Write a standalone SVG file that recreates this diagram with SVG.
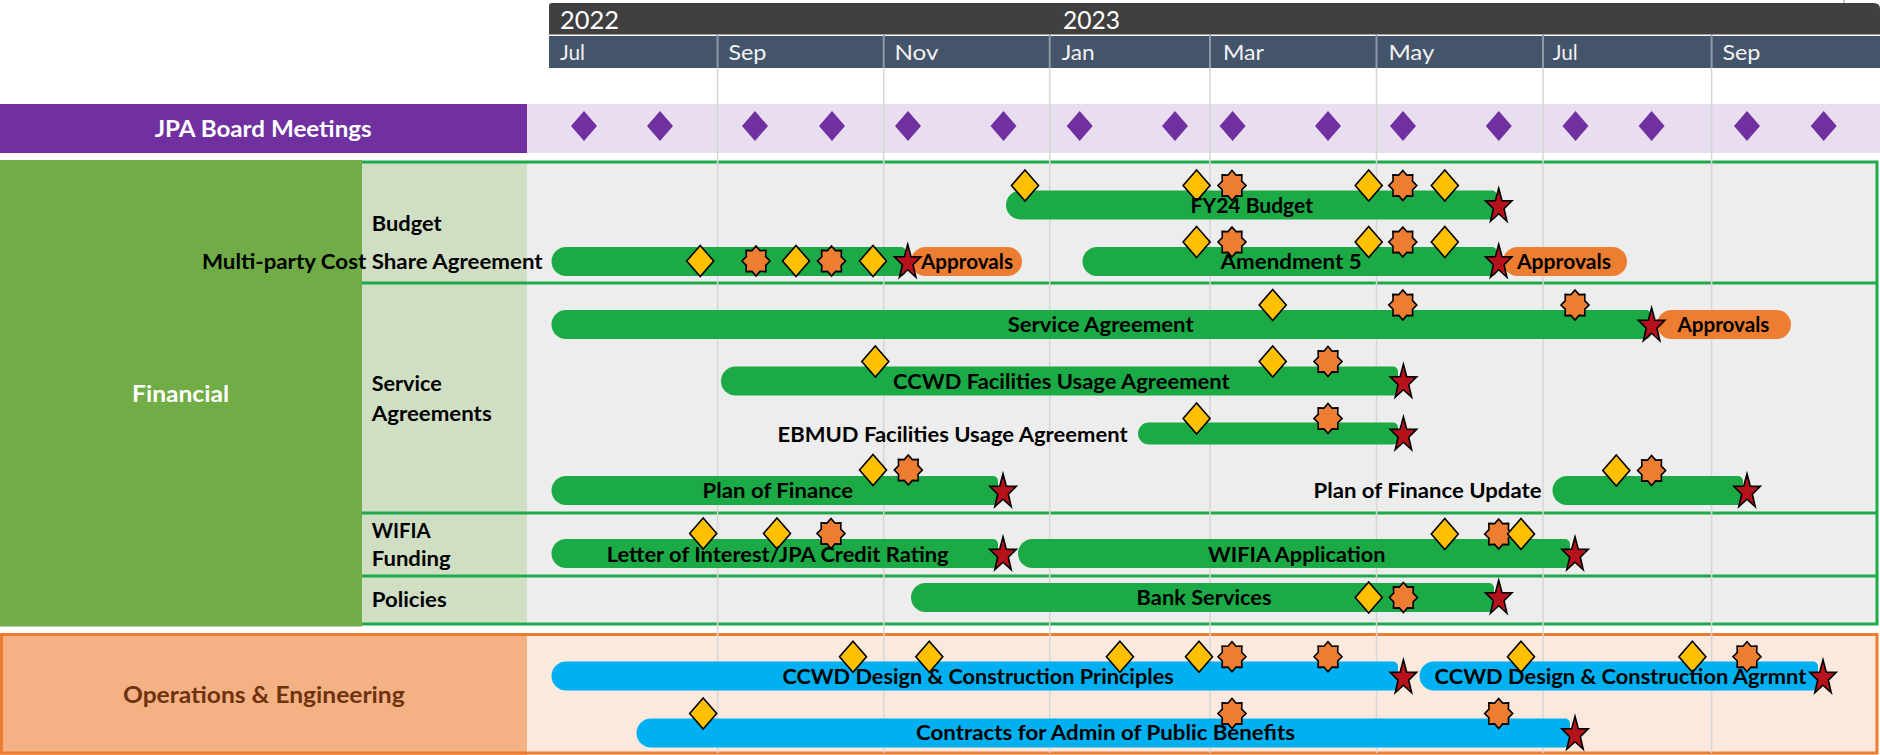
<svg xmlns="http://www.w3.org/2000/svg" width="1880" height="755" viewBox="0 0 1880 755">
<style>
text{font-family:Lato,'Liberation Sans',sans-serif}
.lb{font-weight:700;font-size:20px;fill:#000}
.wh{font-weight:700;font-size:22px;fill:#fff}
.br{font-weight:700;font-size:22px;fill:#6E3210}
.yr{font-size:25px;fill:#fff}
.mo{font-size:21px;fill:#F2F2F2}
.grid{stroke:#D6D6D6;stroke-width:1.5}
.sep{stroke:#8E99A8;stroke-width:2}
.gbar{fill:#1BAA45}
.bbar{fill:#00B0F0}
.pill{fill:#ED7D31}
.fr{stroke:#1EA94A;stroke-width:3;fill:none}
.ofr{stroke:#ED7D31;stroke-width:3;fill:none}
</style>
<defs>
<path id="dia" d="M0,-15.5 L13.5,0 L0,15.5 L-13.5,0 Z" fill="#FFC000" stroke="#000" stroke-width="1.6"/>
<polygon id="oct" points="0,-15 4.02,-10.39 9.9,-10.61 9.7,-4.31 14,0 9.7,4.31 9.9,10.61 4.02,10.39 0,15 -4.02,10.39 -9.9,10.61 -9.7,4.31 -14,0 -9.7,-4.31 -9.9,-10.61 -4.02,-10.39" fill="#ED7D31" stroke="#000" stroke-width="1.6"/>
<polygon id="star" points="0,-16.7 3.29,-4.39 13.32,-4.13 5.33,3.75 8.23,16.23 0,8.78 -8.23,16.23 -5.33,3.75 -13.32,-4.13 -3.29,-4.39" fill="#B5121B" stroke="#000" stroke-width="1.6"/>
<path id="pdia" d="M0,-15 L13,0 L0,15 L-13,0 Z" fill="#7030A0"/>
</defs>
<rect width="1880" height="755" fill="#fff"/>

<g id="timeline-header">
<line x1="1844" y1="0" x2="1844" y2="4" stroke="#ADB9CA" stroke-width="1.5"/>
<path d="M549,34.5 V6 Q549,3 552,3 H1874 Q1880,3 1880,9 V34.5 Z" fill="#404040"/>
<rect x="549" y="36" width="1331" height="32" fill="#44546A"/>
<g class="sep">
<line x1="717.6" y1="35" x2="717.6" y2="68"/>
<line x1="883.7" y1="35" x2="883.7" y2="68"/>
<line x1="1049.7" y1="35" x2="1049.7" y2="68"/>
<line x1="1210" y1="35" x2="1210" y2="68"/>
<line x1="1376.5" y1="35" x2="1376.5" y2="68"/>
<line x1="1543" y1="35" x2="1543" y2="68"/>
<line x1="1711.6" y1="35" x2="1711.6" y2="68"/>
</g>
<text class="yr" x="560" y="28.5" textLength="59" lengthAdjust="spacingAndGlyphs">2022</text>
<text class="yr" x="1063" y="28.5" textLength="57" lengthAdjust="spacingAndGlyphs">2023</text>
<text class="mo" x="560" y="59.5" textLength="25" lengthAdjust="spacingAndGlyphs">Jul</text>
<text class="mo" x="728.4" y="59.5" textLength="38" lengthAdjust="spacingAndGlyphs">Sep</text>
<text class="mo" x="894.5" y="59.5" textLength="44" lengthAdjust="spacingAndGlyphs">Nov</text>
<text class="mo" x="1061.7" y="59.5" textLength="33" lengthAdjust="spacingAndGlyphs">Jan</text>
<text class="mo" x="1223" y="59.5" textLength="41" lengthAdjust="spacingAndGlyphs">Mar</text>
<text class="mo" x="1388.4" y="59.5" textLength="46" lengthAdjust="spacingAndGlyphs">May</text>
<text class="mo" x="1552.7" y="59.5" textLength="25" lengthAdjust="spacingAndGlyphs">Jul</text>
<text class="mo" x="1722.4" y="59.5" textLength="38" lengthAdjust="spacingAndGlyphs">Sep</text>
</g>

<g id="jpa-board-meetings">
<rect x="0" y="104" width="527" height="49" fill="#7030A0"/>
<rect x="527" y="104" width="1353" height="49" fill="#E8DEEF"/>
<text class="wh" x="154.7" y="136.7" textLength="217" lengthAdjust="spacingAndGlyphs">JPA Board Meetings</text>
</g>

<g id="financial">
<rect x="0" y="160" width="362" height="466.5" fill="#70AD47"/>
<rect x="362" y="162" width="165" height="462" fill="#D0DEC4"/>
<rect x="527" y="162" width="1350" height="462" fill="#EDEDED"/>
<path class="fr" d="M362,162 H1877 V624 H362"/>
<line class="fr" x1="362" y1="283" x2="1877" y2="283"/>
<line class="fr" x1="362" y1="513" x2="1877" y2="513"/>
<line class="fr" x1="362" y1="576" x2="1877" y2="576"/>
<text class="wh" x="132" y="402" textLength="97" lengthAdjust="spacingAndGlyphs">Financial</text>
<text class="lb" x="371.7" y="231" textLength="70" lengthAdjust="spacingAndGlyphs">Budget</text>
<text class="lb" x="371.7" y="390.7" textLength="70" lengthAdjust="spacingAndGlyphs">Service</text>
<text class="lb" x="371.7" y="420.5" textLength="120" lengthAdjust="spacingAndGlyphs">Agreements</text>
<text class="lb" x="371.7" y="537.7" textLength="59" lengthAdjust="spacingAndGlyphs">WIFIA</text>
<text class="lb" x="371.7" y="566" textLength="79" lengthAdjust="spacingAndGlyphs">Funding</text>
<text class="lb" x="371.7" y="607" textLength="75" lengthAdjust="spacingAndGlyphs">Policies</text>
</g>

<g id="operations-engineering">
<rect x="0" y="634" width="527" height="121" fill="#F4B183"/>
<rect x="527" y="634" width="1350" height="121" fill="#FBE9DE"/>
<rect class="ofr" x="1.5" y="634.5" width="1875.5" height="118.5"/>
<text class="br" x="123" y="703" textLength="281.7" lengthAdjust="spacingAndGlyphs">Operations &amp; Engineering</text>
</g>

<g id="gridlines" class="grid">
<line x1="717.6" y1="68" x2="717.6" y2="753"/>
<line x1="883.7" y1="68" x2="883.7" y2="753"/>
<line x1="1049.7" y1="68" x2="1049.7" y2="753"/>
<line x1="1210" y1="68" x2="1210" y2="753"/>
<line x1="1376.5" y1="68" x2="1376.5" y2="753"/>
<line x1="1543" y1="68" x2="1543" y2="753"/>
<line x1="1711.6" y1="68" x2="1711.6" y2="753"/>
</g>

<g id="board-meeting-dates">
<use href="#pdia" x="584" y="126"/>
<use href="#pdia" x="660" y="126"/>
<use href="#pdia" x="755" y="126"/>
<use href="#pdia" x="832" y="126"/>
<use href="#pdia" x="908" y="126"/>
<use href="#pdia" x="1003.5" y="126"/>
<use href="#pdia" x="1079.7" y="126"/>
<use href="#pdia" x="1175" y="126"/>
<use href="#pdia" x="1232.6" y="126"/>
<use href="#pdia" x="1328" y="126"/>
<use href="#pdia" x="1403" y="126"/>
<use href="#pdia" x="1498.8" y="126"/>
<use href="#pdia" x="1575.5" y="126"/>
<use href="#pdia" x="1651.6" y="126"/>
<use href="#pdia" x="1747" y="126"/>
<use href="#pdia" x="1823.7" y="126"/>
</g>

<g id="connectors"/>

<g id="fy24-budget">
<path class="gbar" d="M1020.5,190.5 H1492 A5,5 0 0 1 1497,195.5 V214.5 A5,5 0 0 1 1492,219.5 H1020.5 A14.5,14.5 0 0 1 1020.5,190.5 Z"/>
<use href="#dia" x="1025" y="185.5"/>
<use href="#dia" x="1196.6" y="185.5"/>
<use href="#oct" x="1232" y="185.5"/>
<use href="#dia" x="1368.7" y="185.5"/>
<use href="#oct" x="1402.8" y="185.5"/>
<use href="#dia" x="1444.8" y="185.5"/>
<use href="#star" x="1498.7" y="205"/>
<text class="lb" x="1190.6" y="212.7" textLength="122.4" lengthAdjust="spacingAndGlyphs">FY24 Budget</text>
</g>

<g id="multi-party-cost-share">
<path class="gbar" d="M566,247 H901 A5,5 0 0 1 906,252 V271 A5,5 0 0 1 901,276 H566 A14.5,14.5 0 0 1 566,247 Z"/>
<rect class="pill" x="911" y="247" width="111" height="29" rx="14.5"/>
<use href="#dia" x="700.2" y="261"/>
<use href="#oct" x="756" y="261"/>
<use href="#dia" x="796" y="261"/>
<use href="#oct" x="831.5" y="261"/>
<use href="#dia" x="873" y="261"/>
<use href="#star" x="907.7" y="261"/>
<text class="lb" x="202" y="269" textLength="340.6" lengthAdjust="spacingAndGlyphs">Multi-party Cost Share Agreement</text>
<text class="lb" x="921" y="269" textLength="92" lengthAdjust="spacingAndGlyphs">Approvals</text>
</g>

<g id="amendment-5">
<path class="gbar" d="M1097,247 H1492 A5,5 0 0 1 1497,252 V271 A5,5 0 0 1 1492,276 H1097 A14.5,14.5 0 0 1 1097,247 Z"/>
<rect class="pill" x="1503" y="247" width="124" height="29" rx="14.5"/>
<use href="#dia" x="1196.6" y="242"/>
<use href="#oct" x="1232" y="242"/>
<use href="#dia" x="1368.7" y="242"/>
<use href="#oct" x="1402.8" y="242"/>
<use href="#dia" x="1444.8" y="242"/>
<use href="#star" x="1498.7" y="261"/>
<text class="lb" x="1220.6" y="269" textLength="141" lengthAdjust="spacingAndGlyphs">Amendment 5</text>
<text class="lb" x="1517" y="269" textLength="94" lengthAdjust="spacingAndGlyphs">Approvals</text>
</g>

<g id="service-agreement">
<path class="gbar" d="M566,310 H1646 A5,5 0 0 1 1651,315 V334 A5,5 0 0 1 1646,339 H566 A14.5,14.5 0 0 1 566,310 Z"/>
<rect class="pill" x="1657" y="310" width="134" height="29" rx="14.5"/>
<use href="#dia" x="1272.7" y="305"/>
<use href="#oct" x="1402.8" y="305"/>
<use href="#oct" x="1575" y="305"/>
<use href="#star" x="1651.6" y="324.5"/>
<text class="lb" x="1007.7" y="332" textLength="186" lengthAdjust="spacingAndGlyphs">Service Agreement</text>
<text class="lb" x="1677.4" y="332" textLength="92" lengthAdjust="spacingAndGlyphs">Approvals</text>
</g>

<g id="ccwd-facilities-usage">
<path class="gbar" d="M735.5,366.5 H1393 A5,5 0 0 1 1398,371.5 V390.5 A5,5 0 0 1 1393,395.5 H735.5 A14.5,14.5 0 0 1 735.5,366.5 Z"/>
<use href="#dia" x="875.3" y="361.5"/>
<use href="#dia" x="1272.7" y="361.5"/>
<use href="#oct" x="1328" y="361.5"/>
<use href="#star" x="1403.4" y="381"/>
<text class="lb" x="893" y="388.5" textLength="336.6" lengthAdjust="spacingAndGlyphs">CCWD Facilities Usage Agreement</text>
</g>

<g id="ebmud-facilities-usage">
<path class="gbar" d="M1149,422.5 H1393 A5,5 0 0 1 1398,427.5 V439.5 A5,5 0 0 1 1393,444.5 H1149 A11,11 0 0 1 1149,422.5 Z"/>
<use href="#dia" x="1196.6" y="418.5"/>
<use href="#oct" x="1328" y="418.5"/>
<use href="#star" x="1403.4" y="433.5"/>
<text class="lb" x="777.6" y="441.7" textLength="350" lengthAdjust="spacingAndGlyphs">EBMUD Facilities Usage Agreement</text>
</g>

<g id="plan-of-finance">
<path class="gbar" d="M566,476 H993 A5,5 0 0 1 998,481 V500 A5,5 0 0 1 993,505 H566 A14.5,14.5 0 0 1 566,476 Z"/>
<use href="#dia" x="873" y="470"/>
<use href="#oct" x="908.3" y="470"/>
<use href="#star" x="1003" y="490.5"/>
<text class="lb" x="702.6" y="498" textLength="150.5" lengthAdjust="spacingAndGlyphs">Plan of Finance</text>
</g>

<g id="plan-of-finance-update">
<path class="gbar" d="M1567,476 H1738 A5,5 0 0 1 1743,481 V500 A5,5 0 0 1 1738,505 H1567 A14.5,14.5 0 0 1 1567,476 Z"/>
<use href="#dia" x="1616.3" y="470.5"/>
<use href="#oct" x="1651.6" y="470.5"/>
<use href="#star" x="1747" y="490.5"/>
<text class="lb" x="1313.5" y="498" textLength="228" lengthAdjust="spacingAndGlyphs">Plan of Finance Update</text>
</g>

<g id="letter-of-interest">
<path class="gbar" d="M566,539 H993 A5,5 0 0 1 998,544 V563 A5,5 0 0 1 993,568 H566 A14.5,14.5 0 0 1 566,539 Z"/>
<use href="#dia" x="703.2" y="533.5"/>
<use href="#dia" x="777" y="533.5"/>
<use href="#oct" x="831" y="533.5"/>
<use href="#star" x="1003" y="553.5"/>
<text class="lb" x="606.7" y="561.5" textLength="342" lengthAdjust="spacingAndGlyphs">Letter of Interest/JPA Credit Rating</text>
</g>

<g id="wifia-application">
<path class="gbar" d="M1032.5,539 H1565 A5,5 0 0 1 1570,544 V563 A5,5 0 0 1 1565,568 H1032.5 A14.5,14.5 0 0 1 1032.5,539 Z"/>
<use href="#dia" x="1444.8" y="534"/>
<use href="#oct" x="1498.7" y="534"/>
<use href="#dia" x="1521" y="534"/>
<use href="#star" x="1575" y="553.5"/>
<text class="lb" x="1208" y="561.5" textLength="177.4" lengthAdjust="spacingAndGlyphs">WIFIA Application</text>
</g>

<g id="bank-services">
<path class="gbar" d="M925.5,583 H1489 A5,5 0 0 1 1494,588 V607 A5,5 0 0 1 1489,612 H925.5 A14.5,14.5 0 0 1 925.5,583 Z"/>
<use href="#dia" x="1368.7" y="597.5"/>
<use href="#oct" x="1403.4" y="597.5"/>
<use href="#star" x="1498.7" y="597"/>
<text class="lb" x="1136.6" y="605" textLength="135" lengthAdjust="spacingAndGlyphs">Bank Services</text>
</g>

<g id="ccwd-design-construction-principles">
<path class="bbar" d="M566,661.5 H1393 A5,5 0 0 1 1398,666.5 V685.5 A5,5 0 0 1 1393,690.5 H566 A14.5,14.5 0 0 1 566,661.5 Z"/>
<use href="#dia" x="853" y="656.7"/>
<use href="#dia" x="929.3" y="656.7"/>
<use href="#dia" x="1119.9" y="656.7"/>
<use href="#dia" x="1199" y="656.7"/>
<use href="#oct" x="1232" y="656.7"/>
<use href="#oct" x="1328" y="656.7"/>
<use href="#star" x="1403.4" y="676.5"/>
<text class="lb" x="782.4" y="683.5" textLength="391.4" lengthAdjust="spacingAndGlyphs">CCWD Design &amp; Construction Principles</text>
</g>

<g id="ccwd-design-construction-agrmnt">
<path class="bbar" d="M1434,661.5 H1813 A5,5 0 0 1 1818,666.5 V685.5 A5,5 0 0 1 1813,690.5 H1434 A14.5,14.5 0 0 1 1434,661.5 Z"/>
<use href="#dia" x="1521" y="656.7"/>
<use href="#dia" x="1692.4" y="656.7"/>
<use href="#oct" x="1747" y="656.7"/>
<use href="#star" x="1823" y="676.5"/>
<text class="lb" x="1434.6" y="683.5" textLength="371.7" lengthAdjust="spacingAndGlyphs">CCWD Design &amp; Construction Agrmnt</text>
</g>

<g id="contracts-public-benefits">
<path class="bbar" d="M651,718.5 H1565 A5,5 0 0 1 1570,723.5 V742.5 A5,5 0 0 1 1565,747.5 H651 A14.5,14.5 0 0 1 651,718.5 Z"/>
<use href="#dia" x="703.2" y="713.5"/>
<use href="#oct" x="1232" y="713.5"/>
<use href="#oct" x="1498.7" y="713.5"/>
<use href="#star" x="1575" y="733"/>
<text class="lb" x="916" y="740" textLength="379" lengthAdjust="spacingAndGlyphs">Contracts for Admin of Public Benefits</text>
</g>
</svg>
